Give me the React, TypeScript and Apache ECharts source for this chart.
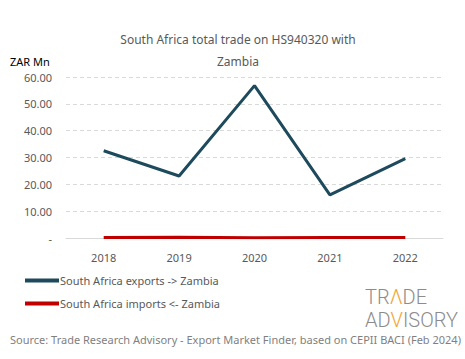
import React, { useEffect, useRef } from "react";
import * as echarts from "echarts";

const years = ["2018", "2019", "2020", "2021", "2022"];
const exportsZm = [32.5, 23.1, 56.8, 16.1, 29.6];
const importsZm = [0.2, 0.3, 0.1, 0.2, 0.2];
const yTicks = [0, 10, 20, 30, 40, 50, 60];

const FONT = "'Noto Sans', sans-serif";

export default function App() {
  const ref = useRef<HTMLDivElement>(null);
  useEffect(() => {
    const chart = echarts.init(ref.current!, null, { renderer: "svg" });
    const logoG = { fill: "#8c8c8c", fontSize: 20, fontFamily: "Roboto", fontWeight: 300, lineHeight: 20 };
    const logoO = { fill: "#f2a533", fontSize: 20, fontFamily: "Roboto", fontWeight: 300, lineHeight: 20 };
    chart.setOption({
      animation: false,
      backgroundColor: "#ffffff",
      textStyle: { fontFamily: FONT },
      title: {
        text: "South Africa total trade on HS940320 with\n\nZambia",
        left: 233,
        textAlign: "center",
        top: 29,
        textStyle: { fontSize: 12, fontWeight: "normal", color: "#595959", lineHeight: 11, fontFamily: FONT },
      },
      legend: {
        orient: "vertical",
        left: 20,
        top: 270,
        itemWidth: 34,
        itemHeight: 4,
        itemGap: 12,
        icon: "rect",
        textStyle: { fontSize: 11, color: "#595959", fontFamily: FONT, padding: [0, 0, 0, -4] },
        data: ["South Africa exports -> Zambia", "South Africa imports <- Zambia"],
      },
      grid: { left: 66, right: 22, top: 77, bottom: 121, containLabel: false },
      xAxis: {
        type: "category",
        data: years,
        boundaryGap: true,
        axisLine: { show: true, lineStyle: { color: "#d9d9d9" } },
        axisTick: { show: false },
        axisLabel: { color: "#595959", fontSize: 11, margin: 14, fontFamily: FONT },
      },
      yAxis: {
        type: "value",
        min: yTicks[0],
        max: yTicks[yTicks.length - 1],
        interval: 10,
        name: "ZAR Mn",
        nameLocation: "end",
        nameGap: 10,
        nameTextStyle: { color: "#000000", fontSize: 11, align: "left", padding: [0, 0, 0, -56], fontFamily: FONT },
        axisLine: { show: false },
        axisTick: { show: false },
        splitLine: { lineStyle: { color: "#d9d9d9", type: [4, 3] } },
        axisLabel: {
          color: "#595959",
          fontSize: 11,
          margin: 14,
          fontFamily: FONT,
          formatter: (v: number) => (v === 0 ? "-" : v.toFixed(2)),
        },
      },
      series: [
        {
          name: "South Africa exports -> Zambia",
          type: "line",
          data: exportsZm,
          symbol: "none",
          lineStyle: { color: "#1d4a5c", width: 3 },
          itemStyle: { color: "#1d4a5c" },
        },
        {
          name: "South Africa imports <- Zambia",
          type: "line",
          data: importsZm,
          symbol: "none",
          lineStyle: { color: "#c00000", width: 3 },
          itemStyle: { color: "#c00000" },
        },
      ],
      graphic: [
        {
          type: "text",
          left: 365,
          top: 287,
          style: {
            text: "{g|TR}{o|Λ}{g|DE}",
            rich: { g: logoG, o: logoO },
          },
        },
        {
          type: "text",
          left: 365,
          top: 310,
          style: {
            text: "{g|AD}{o|V}{g|ISORY}",
            rich: { g: logoG, o: logoO },
          },
        },
        {
          type: "text",
          left: 10,
          top: 334,
          style: {
            text: "Source: Trade Research Advisory - Export Market Finder, based on CEPII BACI (Feb 2024)",
            fill: "#7f7f7f",
            fontSize: 11,
            fontFamily: FONT,
          },
        },
      ],
    });
    return () => chart.dispose();
  }, []);
  return <div ref={ref} style={{ width: 465, height: 359, position: "absolute", left: 0, top: 0 }} />;
}
